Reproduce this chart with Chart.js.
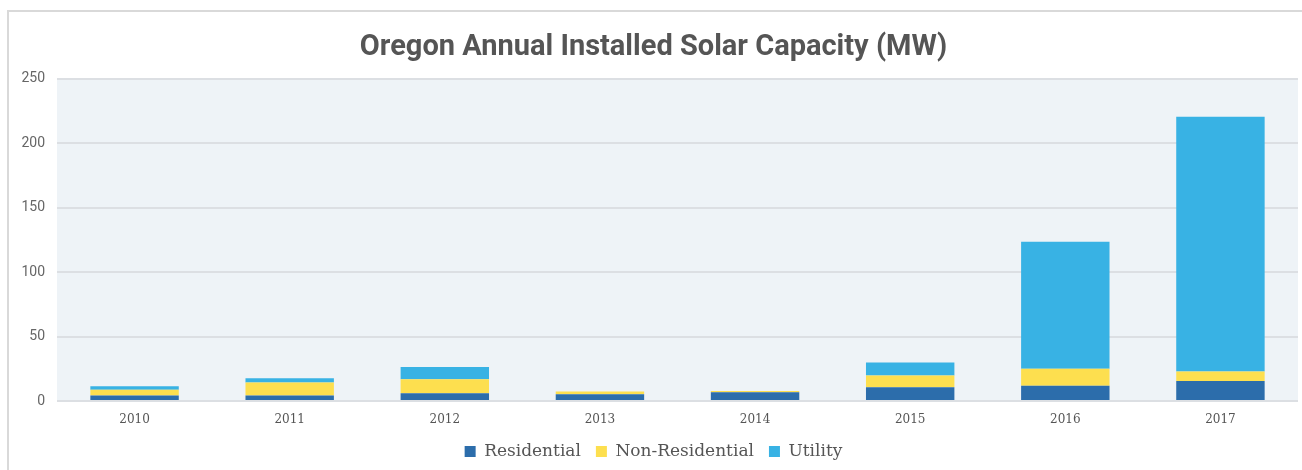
<!DOCTYPE html>
<html>
<head>
<meta charset="utf-8">
<script src="https://cdn.jsdelivr.net/npm/chart.js@4"></script>
<style>
  html, body { margin: 0; padding: 0; background: #fff; }
  #frame {
    position: absolute; left: 7px; top: 10px; width: 1295px; height: 460px;
    border-top: 2px solid #d9d9d9; border-left: 2px solid #d9d9d9;
  }
  #chart { display: block; }
</style>
</head>
<body>
<div id="frame"><canvas id="chart" width="1293" height="458"></canvas></div>
<script>
const years = ['2010', '2011', '2012', '2013', '2014', '2015', '2016', '2017'];
const residential    = [4.2, 4.2, 6.0, 5.2, 6.7, 10.6, 11.9, 15.5];
const nonResidential = [4.6, 10.1, 10.9, 2.1, 1.1, 9.1, 13.2, 7.3];
const utility        = [2.6, 3.3, 9.5, 0, 0, 10.1, 98.5, 197.7];
const yTicks = [0, 50, 100, 150, 200, 250];

// fundo claro da area do grafico
const plotBg = {
  id: 'plotBg',
  beforeDraw(chart) {
    const { ctx, chartArea: a } = chart;
    ctx.save();
    ctx.fillStyle = '#eef3f7';
    ctx.fillRect(a.left, a.top, a.right - a.left, a.bottom - a.top);
    ctx.restore();
  }
};

new Chart(document.getElementById('chart'), {
  type: 'bar',
  data: {
    labels: years,
    datasets: [
      { label: 'Residential', data: residential, backgroundColor: '#2c6dab' },
      { label: 'Non-Residential', data: nonResidential, backgroundColor: '#fddf4f' },
      { label: 'Utility', data: utility, backgroundColor: '#38b2e4' }
    ]
  },
  options: {
    responsive: false,
    animation: false,
    layout: { padding: { left: 0, right: 4, top: 14, bottom: 0 } },
    datasets: { bar: { categoryPercentage: 1, barPercentage: 0.57 } },
    plugins: {
      title: {
        display: true,
        text: 'Oregon Annual Installed Solar Capacity (MW)',
        color: '#555',
        font: { family: 'Roboto', size: 29, weight: 'bold' },
        padding: { top: 4, bottom: 14 }
      },
      legend: {
        position: 'bottom',
        labels: {
          color: '#555',
          font: { family: 'DejaVu Serif', size: 17 },
          boxWidth: 11, boxHeight: 11, padding: 15
        }
      },
      tooltip: { enabled: false }
    },
    scales: {
      x: {
        stacked: true,
        grid: { display: false },
        border: { display: false },
        ticks: { color: '#555', font: { family: 'DejaVu Serif', size: 12 }, padding: 4 },
        afterFit(s) { s.height = 27; }
      },
      y: {
        stacked: true,
        min: 0,
        max: yTicks[yTicks.length - 1],
        afterBuildTicks(s) { s.ticks = yTicks.map((v) => ({ value: v })); },
        grid: { color: '#dcdfe3', lineWidth: 2, drawTicks: false },
        border: { display: false },
        ticks: { color: '#666', font: { family: 'Roboto', size: 14 }, padding: 12 },
        afterFit(s) { s.width = 48; }
      }
    }
  },
  plugins: [plotBg]
});
</script>
</body>
</html>
